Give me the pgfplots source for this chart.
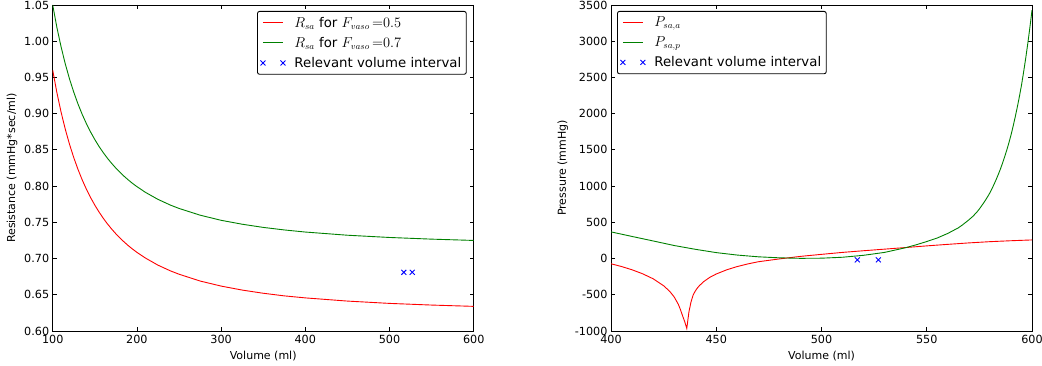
\documentclass[border=0pt]{standalone}
\usepackage{fontspec}
\setmainfont{DejaVu Sans}
\usepackage{pgfplots}
\pgfplotsset{compat=1.18}
\definecolor{mplgreen}{HTML}{008000}
\definecolor{mplred}{HTML}{FF0000}
\definecolor{mplblue}{HTML}{0000FF}
\begin{document}
\begin{tikzpicture}
\pgfplotsset{
 mystyle/.style={
  scale only axis, width=421pt, height=326pt,
  tick align=inside, major tick length=4pt,
  axis line style={line width=0.9pt},
  every tick/.style={black, line width=0.8pt},
  tick label style={font=\fontsize{11.2}{13}\selectfont},
  xticklabel style={yshift=-1pt},
  label style={font=\fontsize{11}{13}\selectfont},
  /pgf/number format/assume math mode=true,
  /pgf/number format/1000 sep={},
  scaled ticks=false,
  legend style={font=\fontsize{13.3}{16}\selectfont, rounded corners=2pt, line width=0.9pt, row sep=4.5pt, column sep=7pt, inner xsep=3pt, inner ysep=3.5pt},
  legend cell align=left,
 },
 lineplot/.style={line width=0.9pt, color=#1, legend image code/.code={\draw[line width=0.9pt, draw=#1] (0pt,0pt) -- (20pt,0pt);}},
 crossplot/.style={only marks, mark=x, mark size=3.5pt, color=mplblue, mark options={line width=0.9pt, draw=mplblue}, legend image code/.code={\draw[##1] plot coordinates {(0pt,0pt) (20pt,0pt)};}},
}
\begin{axis}[mystyle, at={(0,0)}, anchor=south west,
  xmin=100, xmax=600, ymin=0.6, ymax=1.05,
  xtick={100,200,300,400,500,600},
  ytick={0.60,0.65,0.70,0.75,0.80,0.85,0.90,0.95,1.00,1.05},
  yticklabel style={/pgf/number format/fixed, /pgf/number format/fixed zerofill, /pgf/number format/precision=2},
  xlabel={Volume (ml)}, ylabel={Resistance (mmHg*sec/ml)},
  legend style={at={(1,1)}, anchor=north east, xshift=-7pt, yshift=-6pt}]
\addplot[lineplot=mplred] coordinates {
(100,0.9601) (105,0.9289) (110,0.9019) (115,0.8783) (120,0.8576) (125,0.8394)
(130,0.8232) (135,0.8087) (140,0.7958) (145,0.7842) (150,0.7738) (155,0.7643)
(160,0.7557) (165,0.7479) (170,0.7408) (175,0.7342) (180,0.7282) (185,0.7227)
(190,0.7176) (195,0.7129) (200,0.7086) (210,0.7008) (225,0.6909) (240,0.6829)
(250,0.6784) (275,0.6690) (300,0.6620) (325,0.6565) (350,0.6521) (375,0.6485)
(400,0.6457) (450,0.6413) (500,0.6381) (550,0.6358) (600,0.6340)};
\addlegendentry{$R_{sa}$ for $F_{vaso}\,{=}0.5$}
\addplot[lineplot=mplgreen] coordinates {
(100,1.0500) (105,1.0189) (110,0.9920) (115,0.9685) (120,0.9478) (125,0.9297)
(130,0.9135) (135,0.8991) (140,0.8863) (145,0.8747) (150,0.8643) (155,0.8548)
(160,0.8463) (165,0.8385) (170,0.8314) (175,0.8249) (180,0.8189) (185,0.8134)
(190,0.8083) (195,0.8036) (200,0.7993) (210,0.7915) (225,0.7817) (240,0.7737)
(250,0.7692) (275,0.7599) (300,0.7528) (325,0.7474) (350,0.7430) (375,0.7395)
(400,0.7366) (450,0.7322) (500,0.7291) (550,0.7268) (600,0.7250)};
\addlegendentry{$R_{sa}$ for $F_{vaso}\,{=}0.7$}
\addplot[crossplot] coordinates {(517,0.681) (527,0.681)};
\addlegendentry{Relevant volume interval}
\end{axis}
\begin{axis}[mystyle, at={(558.3pt,0)}, anchor=south west,
  xmin=400, xmax=600, ymin=-1000, ymax=3500,
  xtick={400,450,500,550,600},
  ytick={-1000,-500,0,500,1000,1500,2000,2500,3000,3500},
  xlabel={Volume (ml)}, ylabel={Pressure (mmHg)},
  legend style={at={(0,1)}, anchor=north west, xshift=6pt, yshift=-6pt}]
\addplot[lineplot=mplred] coordinates {
(400,-72) (405,-110) (410,-155) (415,-210) (420,-279) (425,-375) (428,-456)
(430,-529) (432,-633) (433,-706) (434,-790) (435,-870) (436,-965) (437,-740)
(438,-600) (439,-505) (440,-450) (441,-408) (442,-374) (444,-319) (447,-258)
(450,-213) (455,-155) (460,-110) (465,-74) (470,-44) (480,-5) (490,30)
(500,58) (510,85) (520,108) (530,130) (540,152) (550,175) (560,196)
(570,216) (580,233) (590,246) (600,257)};
\addlegendentry{$P_{sa,a}$}
\addplot[lineplot=mplgreen] coordinates {
(400,368) (410,305) (420,243) (430,180) (440,128) (450,82) (460,48) (470,24)
(480,10) (490,3) (500,5) (510,18) (520,45) (530,85) (540,150) (545,190)
(550,235) (555,284) (560,347) (565,424) (567,465) (570,534) (572,585) (574,648)
(575,685) (576,725) (577,767) (578,811) (579,858) (580,907) (581,965) (582,1027)
(583,1092) (584,1162) (585,1236) (586,1317) (587,1404) (588,1496) (589,1595)
(590,1703) (591,1822) (592,1951) (593,2088) (594,2235) (595,2392) (596,2572)
(597,2763) (598,2969) (599,3191) (600,3428)};
\addlegendentry{$P_{sa,p}$}
\addplot[crossplot] coordinates {(517,-18) (527,-18)};
\addlegendentry{Relevant volume interval}
\end{axis}
\pgfresetboundingbox
\path (-52.7pt,-35pt) rectangle (989.3pt,331pt);
\end{tikzpicture}
\end{document}
